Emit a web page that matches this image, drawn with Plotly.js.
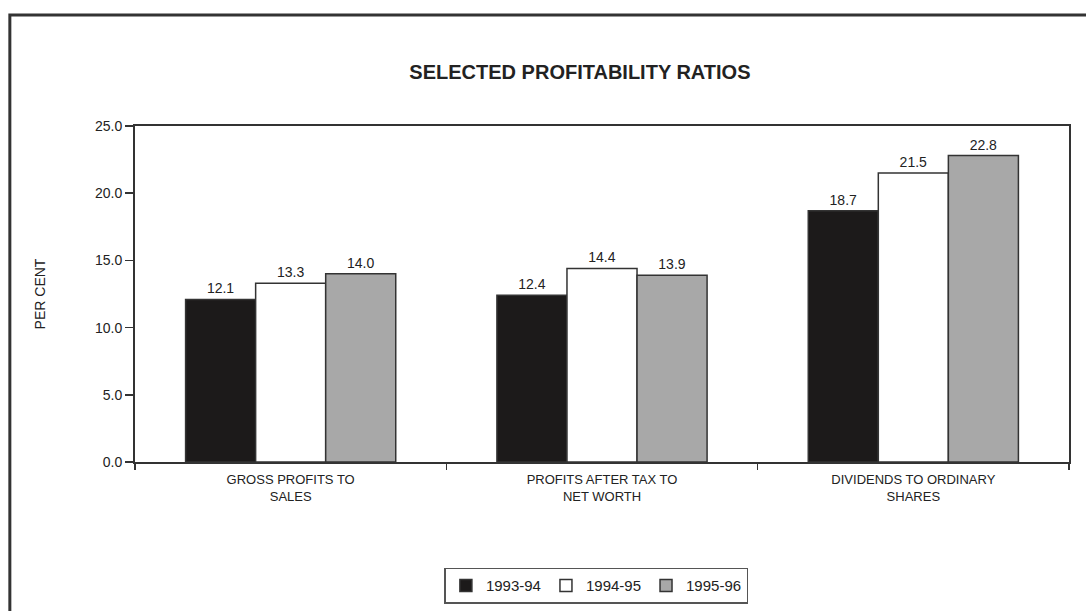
<!DOCTYPE html>
<html>
<head>
<meta charset="utf-8">
<script src="https://cdn.plot.ly/plotly-3.0.1.min.js"></script>
<style>html,body{margin:0;padding:0;background:#fff;}#chart{width:1086px;height:611px;}</style>
</head>
<body>
<div id="chart"></div>
<script>
const categories = ["GROSS PROFITS TO<br>SALES", "PROFITS AFTER TAX TO<br>NET WORTH", "DIVIDENDS TO ORDINARY<br>SHARES"];
const seriesNames = ["1993-94", "1994-95", "1995-96"];
const v9394 = [12.1, 12.4, 18.7];
const v9495 = [13.3, 14.4, 21.5];
const v9596 = [14.0, 13.9, 22.8];
const yTicks = [0, 5, 10, 15, 20, 25];

const fills = ["#1c1a1a", "#ffffff", "#a8a8a8"];
const allVals = [v9394, v9495, v9596];

const traces = allVals.map((vals, i) => ({
  type: "bar",
  name: seriesNames[i],
  x: categories,
  y: vals,
  text: vals.map(v => v.toFixed(1)),
  textposition: "outside",
  cliponaxis: false,
  textfont: {family: "Liberation Sans, Arial, sans-serif", size: 14, color: "#222"},
  marker: {color: fills[i], line: {color: "#333", width: 1.5}},
  hoverinfo: "skip"
}));

const layout = {
  width: 1086, height: 611,
  margin: {l: 135, r: 17, t: 126, b: 149, autoexpand: false},
  paper_bgcolor: "#fff", plot_bgcolor: "#fff",
  font: {family: "Liberation Sans, Arial, sans-serif", color: "#222"},
  title: {
    text: "<b>SELECTED PROFITABILITY RATIOS</b>",
    font: {size: 20, color: "#222"},
    x: 0.534, xanchor: "center", y: 0.882, yanchor: "middle"
  },
  barmode: "group",
  bargap: 0.325,
  bargroupgap: 0,
  showlegend: true,
  legend: {
    orientation: "h", x: 0.494, xanchor: "center", y: -0.315, yanchor: "top",
    bordercolor: "#555", borderwidth: 1.5,
    font: {size: 15, color: "#222"},
    itemwidth: 30,
    traceorder: "normal"
  },
  xaxis: {
    type: "category",
    showline: true, linecolor: "#333", linewidth: 2, mirror: true,
    ticks: "outside", tickson: "boundaries", ticklen: 6, tickcolor: "#333", tickwidth: 1.5,
    tickfont: {size: 13, color: "#222"},
    ticklabelstandoff: 4,
    showgrid: false, zeroline: false
  },
  yaxis: {
    range: [0, 25],
    tickvals: yTicks,
    ticktext: yTicks.map(v => v.toFixed(1)),
    showline: true, linecolor: "#333", linewidth: 2, mirror: true,
    ticks: "outside", ticklen: 8, tickcolor: "#333", tickwidth: 1.5,
    tickfont: {size: 14, color: "#222"},
    showgrid: false, zeroline: false,
    title: {text: "PER CENT", font: {size: 14, color: "#222"}, standoff: 46}
  },
  shapes: [{
    type: "rect", xref: "paper", yref: "paper",
    x0: -0.134, x1: 1.08, y0: -0.5, y1: 1.33,
    line: {color: "#333", width: 3}, fillcolor: "rgba(0,0,0,0)", layer: "below"
  }]
};

Plotly.newPlot("chart", traces, layout, {displayModeBar: false, staticPlot: true});
</script>
</body>
</html>
